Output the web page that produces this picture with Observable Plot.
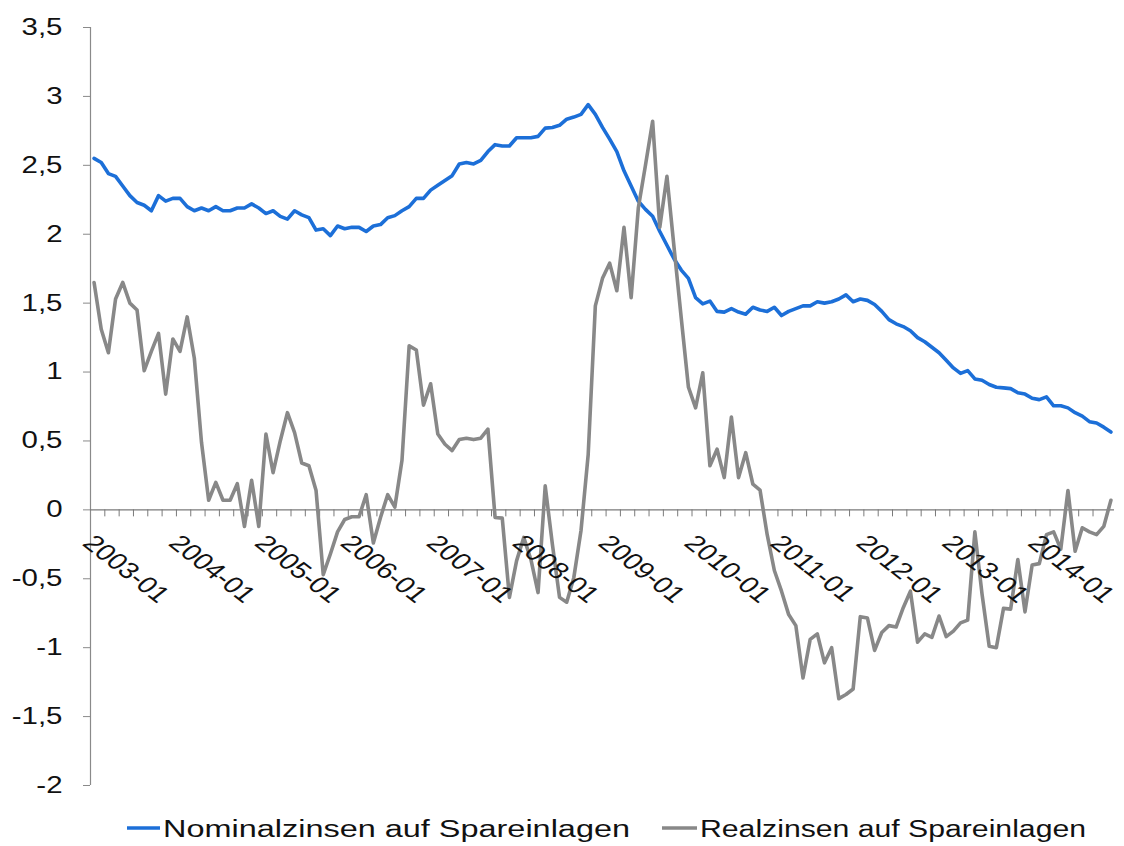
<!DOCTYPE html>
<html>
<head>
<meta charset="utf-8">
<script src="https://cdn.jsdelivr.net/npm/d3@7"></script>
<script src="https://cdn.jsdelivr.net/npm/@observablehq/plot@0.6"></script>
<style>
  html, body { margin: 0; padding: 0; background: #fff; overflow: hidden; }
  #chart svg { display: block; }
</style>
</head>
<body>
<div id="chart"></div>
<script>
// ---- Data (monthly, 2003-01 .. 2014-11) ----
const startYear = 2003;
const monthCount = 143;
const months = d3.range(monthCount).map(i => `${startYear + Math.floor(i / 12)}-${String(i % 12 + 1).padStart(2, "0")}`);

const nominal = [
  2.55, 2.52, 2.44, 2.42, 2.35, 2.28, 2.23, 2.21, 2.17, 2.28, 2.24, 2.26,
  2.26, 2.20, 2.17, 2.19, 2.17, 2.20, 2.17, 2.17, 2.19, 2.19, 2.22, 2.19,
  2.15, 2.17, 2.13, 2.11, 2.17, 2.14, 2.12, 2.03, 2.04, 1.99, 2.06, 2.04,
  2.05, 2.05, 2.02, 2.06, 2.07, 2.12, 2.135, 2.17, 2.20, 2.26, 2.26, 2.32,
  2.355, 2.39, 2.425, 2.51, 2.52, 2.51, 2.535, 2.60, 2.65, 2.64, 2.64, 2.70,
  2.70, 2.70, 2.71, 2.77, 2.775, 2.79, 2.835, 2.85, 2.87, 2.94, 2.87, 2.775,
  2.69, 2.60, 2.46, 2.35, 2.24, 2.18, 2.13, 2.02, 1.92, 1.82, 1.74, 1.68,
  1.54, 1.495, 1.515, 1.44, 1.435, 1.46, 1.435, 1.42, 1.47, 1.45, 1.44, 1.47,
  1.41, 1.44, 1.46, 1.48, 1.48, 1.51, 1.50, 1.51, 1.53, 1.56, 1.51, 1.53,
  1.52, 1.49, 1.44, 1.38, 1.35, 1.33, 1.30, 1.25, 1.22, 1.18, 1.14, 1.085,
  1.03, 0.99, 1.01, 0.95, 0.94, 0.91, 0.89, 0.885, 0.88, 0.85, 0.84, 0.81,
  0.80, 0.82, 0.755, 0.755, 0.74, 0.705, 0.68, 0.64, 0.63, 0.60, 0.565
];

const real = [
  1.65, 1.31, 1.14, 1.53, 1.65, 1.50, 1.45, 1.01, 1.15, 1.28, 0.84, 1.24,
  1.15, 1.40, 1.10, 0.49, 0.07, 0.20, 0.07, 0.07, 0.19, -0.12, 0.215, -0.12,
  0.55, 0.27, 0.50, 0.705, 0.56, 0.34, 0.32, 0.14, -0.47, -0.32, -0.16, -0.07,
  -0.05, -0.05, 0.11, -0.24, -0.055, 0.11, 0.02, 0.36, 1.19, 1.16, 0.76, 0.915,
  0.55, 0.476, 0.43, 0.51, 0.52, 0.51, 0.52, 0.585, -0.055, -0.06, -0.635, -0.37,
  -0.20, -0.36, -0.60, 0.174, -0.25, -0.635, -0.67, -0.49, -0.15, 0.40, 1.48, 1.68,
  1.79, 1.59, 2.05, 1.54, 2.19, 2.50, 2.82, 2.05, 2.42, 1.90, 1.39, 0.89,
  0.74, 0.995, 0.32, 0.44, 0.234, 0.674, 0.234, 0.415, 0.186, 0.143, -0.18, -0.44,
  -0.59, -0.76, -0.84, -1.22, -0.94, -0.90, -1.11, -1.00, -1.37, -1.34, -1.30, -0.775,
  -0.785, -1.02, -0.89, -0.84, -0.85, -0.71, -0.59, -0.96, -0.90, -0.925, -0.77, -0.92,
  -0.88, -0.82, -0.80, -0.16, -0.61, -0.99, -1.00, -0.715, -0.72, -0.36, -0.74, -0.40,
  -0.39, -0.18, -0.16, -0.285, 0.14, -0.30, -0.13, -0.16, -0.18, -0.12, 0.07
];

const seriesNames = ["Nominalzinsen auf Spareinlagen", "Realzinsen auf Spareinlagen"];
const seriesColors = ["#1c6fd8", "#888888"];
const yTicks = [-2, -1.5, -1, -0.5, 0, 0.5, 1, 1.5, 2, 2.5, 3, 3.5];
const xLabelMonths = ["2003-01", "2004-01", "2005-01", "2006-01", "2007-01", "2008-01",
                      "2009-01", "2010-01", "2011-01", "2012-01", "2013-01", "2014-01"];

// ---- Build tables ----
const nominalData = nominal.map((v, i) => ({i, month: months[i], v}));
const realData = real.map((v, i) => ({i, month: months[i], v}));
const labelData = xLabelMonths.map(m => ({i: months.indexOf(m), text: m}));
const minorTicks = d3.range(2, monthCount, 2); // category boundaries every 2 months

const axisGrey = "#8a8a8a";
const stretch = 1.28;

const plot = Plot.plot({
  width: 1124,
  height: 800,
  marginLeft: 90,
  marginRight: 10,
  marginTop: 27,
  marginBottom: 15,
  style: {fontFamily: "'Liberation Sans', Arial, sans-serif", background: "#fff", overflow: "visible"},
  x: {domain: [0, monthCount], axis: null},
  y: {domain: [-2, 3.5], axis: null},
  marks: [
    Plot.axisY({
      ticks: yTicks,
      tickFormat: d => String(d).replace(".", ","),
      tickSize: 7,
      tickPadding: 21,
      stroke: axisGrey,
      fill: "#111",
      fontSize: 23,
      label: null
    }),
    Plot.ruleX([0], {y1: -2, y2: 3.5, stroke: axisGrey, strokeWidth: 1.2}),
    Plot.ruleY([0], {stroke: "#7a7a7a", strokeWidth: 1.2}),
    Plot.ruleX(minorTicks, {x: d => d, y1: 0, y2: 0, insetBottom: -7, stroke: "#7a7a7a", strokeWidth: 1}),
    Plot.lineY(nominalData, {x: d => d.i + 0.5, y: "v", stroke: seriesColors[0], strokeWidth: 3.6, strokeLinejoin: "round"}),
    Plot.lineY(realData, {x: d => d.i + 0.5, y: "v", stroke: seriesColors[1], strokeWidth: 3.6, strokeLinejoin: "round"}),
    Plot.text(labelData, {
      x: d => d.i + 0.5, y: () => 0, text: "text",
      rotate: 45, textAnchor: "start", lineAnchor: "top",
      dx: 2, dy: 23, fontSize: 23, fill: "#111"
    })
  ]
});

// horizontal glyph stretch to match the reference's wide lettering
plot.querySelectorAll('g[aria-label="y-axis tick label"] text').forEach(t => {
  const tr = t.getAttribute("transform");
  if (tr) t.setAttribute("transform", tr + ` scale(${stretch},1)`);
});
plot.querySelectorAll('g[aria-label="text"] text').forEach(t => {
  const tr = t.getAttribute("transform");
  if (tr && /rotate\(/.test(tr)) t.setAttribute("transform", tr.replace(/rotate\(([^)]*)\)/, `scale(${stretch},1) rotate($1)`));
});

document.getElementById("chart").appendChild(plot);

// ---- Legend (below the SVG) ----
const ns = "http://www.w3.org/2000/svg";
const leg = document.createElementNS(ns, "svg");
leg.setAttribute("width", 1124);
leg.setAttribute("height", 46);
leg.style.display = "block";
const legItems = [
  {name: seriesNames[0], color: seriesColors[0], x1: 127, x2: 160, tx: 163, len: 467},
  {name: seriesNames[1], color: seriesColors[1], x1: 662, x2: 697, tx: 700, len: 386}
];
legItems.forEach(it => {
  const l = document.createElementNS(ns, "line");
  l.setAttribute("x1", it.x1); l.setAttribute("x2", it.x2);
  l.setAttribute("y1", 28); l.setAttribute("y2", 28);
  l.setAttribute("stroke", it.color); l.setAttribute("stroke-width", 3.6);
  leg.appendChild(l);
  const t = document.createElementNS(ns, "text");
  t.setAttribute("x", it.tx); t.setAttribute("y", 36.5);
  t.setAttribute("font-family", "'Liberation Sans', Arial, sans-serif");
  t.setAttribute("font-size", 23);
  t.setAttribute("fill", "#111");
  t.setAttribute("textLength", it.len);
  t.setAttribute("lengthAdjust", "spacingAndGlyphs");
  t.textContent = it.name;
  leg.appendChild(t);
});
document.getElementById("chart").appendChild(leg);
</script>
</body>
</html>
